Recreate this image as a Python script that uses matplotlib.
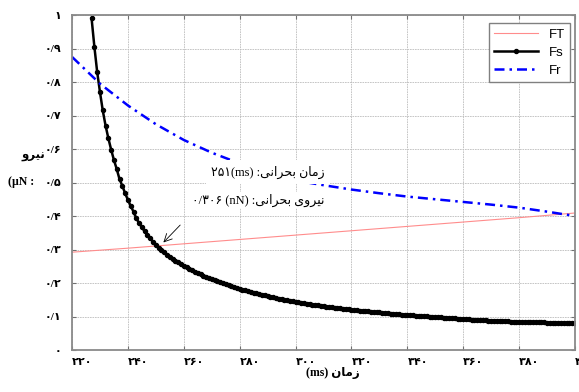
import numpy as np
import matplotlib
matplotlib.use("Agg")
from matplotlib import pyplot as plt

# time axis (ms) and the three force curves
ft_time = [220, 240, 260, 280, 300, 320, 340, 360, 380, 400]
ft_vals = [0.292, 0.304, 0.317, 0.330, 0.343, 0.356, 0.369, 0.382, 0.395, 0.409]

fr_time = [220, 230, 240, 250, 260, 270, 280, 290, 300, 310, 320,
           330, 340, 350, 360, 370, 380, 390, 400]
fr_vals = [0.875, 0.795, 0.730, 0.674, 0.627, 0.589, 0.557, 0.530, 0.506, 0.492, 0.479,
           0.468, 0.458, 0.450, 0.442, 0.434, 0.425, 0.413, 0.400]

fs_start = 227  # one sample per ms
fs_vals = [
    0.990, 0.905, 0.830, 0.770, 0.715, 0.670, 0.632, 0.598, 0.567, 0.540,   # 227-236
    0.510, 0.490, 0.468, 0.448, 0.430, 0.413, 0.393, 0.379, 0.366, 0.354,   # 237-246
    0.343, 0.333, 0.323, 0.314, 0.306, 0.299, 0.292, 0.285, 0.279, 0.273,   # 247-256
    0.267, 0.262, 0.257, 0.252, 0.247, 0.243, 0.238, 0.234, 0.230, 0.226,   # 257-266
    0.222, 0.218, 0.215, 0.211, 0.208, 0.205, 0.202, 0.199, 0.196, 0.193,   # 267-276
    0.190, 0.188, 0.185, 0.183, 0.180, 0.178, 0.176, 0.173, 0.171, 0.169,   # 277-286
    0.167, 0.165, 0.163, 0.161, 0.159, 0.157, 0.155, 0.153, 0.152, 0.150,   # 287-296
    0.148, 0.147, 0.145, 0.144, 0.142, 0.141, 0.139, 0.138, 0.137, 0.135,   # 297-306
    0.134, 0.133, 0.131, 0.130, 0.129, 0.128, 0.127, 0.126, 0.125, 0.124,   # 307-316
    0.123, 0.122, 0.121, 0.120, 0.119, 0.118, 0.117, 0.116, 0.1155, 0.115,  # 317-326
    0.114, 0.113, 0.1125, 0.112, 0.111, 0.110, 0.1095, 0.109, 0.108, 0.1075,  # 327-336
    0.107, 0.106, 0.1055, 0.105, 0.104, 0.1035, 0.103, 0.102, 0.1015, 0.101,  # 337-346
    0.1005, 0.100, 0.099, 0.0985, 0.098, 0.0975, 0.097, 0.0965, 0.096, 0.0955,  # 347-356
    0.095, 0.094, 0.0935, 0.093, 0.092, 0.0915, 0.091, 0.0905, 0.090, 0.0895,  # 357-366
    0.089, 0.0885, 0.088, 0.0878, 0.0874, 0.087, 0.0866, 0.0862, 0.0858, 0.0854,  # 367-376
    0.085, 0.0847, 0.0843, 0.084, 0.0838, 0.0836, 0.0834, 0.0832, 0.083, 0.0828,  # 377-386
    0.0826, 0.0824, 0.0822, 0.082, 0.0818, 0.0816, 0.0814, 0.0812, 0.081, 0.0808,  # 387-396
    0.0806, 0.0804, 0.0802, 0.080,  # 397-400
]
fs_time = list(range(fs_start, fs_start + len(fs_vals)))

x_ticks = [220, 240, 260, 280, 300, 320, 340, 360, 380, 400]
y_ticks = [0, 0.1, 0.2, 0.3, 0.4, 0.5, 0.6, 0.7, 0.8, 0.9, 1.0]

FA_DIGITS = str.maketrans("0123456789.", "۰۱۲۳۴۵۶۷۸۹/")


def fa(s):
    return s.translate(FA_DIGITS)


# persian words already shaped, in visual (left to right) order
W_ZAMAN = "ﻥﺎﻣﺯ"
W_BOHRANI = "ﻰﻧﺍﺮﺤﺑ"
W_NIRU = "ﻭﺮﻴﻧ"
W_NIRUYE = "ﻯﻭﺮﻴﻧ"

SERIF = ["Liberation Serif", "DejaVu Sans"]

fig = plt.figure(figsize=(5.79, 3.92), dpi=100)
ax = fig.add_axes([0.1244, 0.1071, 0.8687, 0.8546])

ax.plot(ft_time, ft_vals, color="#ff8c8c", lw=0.8, label="FT")
ax.plot(fs_time, fs_vals, color="black", lw=1.8, marker="o", ms=2.9, label="Fs")
ax.plot(fr_time, fr_vals, color="blue", lw=1.8, ls=(0, (4, 2, 1, 2)), label="Fr")

ax.set_xlim(220, 400)
ax.set_ylim(0, 1)
ax.set_xticks(x_ticks)
ax.set_yticks(y_ticks)
ax.set_xticklabels([fa(str(v)) for v in x_ticks], ha="left",
                   family=SERIF, fontweight="bold", fontsize=8)
ylabs = ["۰" if v == 0 else ("۱" if v == 1 else fa("0.%d" % round(v * 10))) for v in y_ticks]
ax.set_yticklabels(ylabs, family=SERIF, fontweight="bold", fontsize=8)

ax.grid(True, color="#bdbdbd", lw=0.6, ls=(0, (2, 1)))
ax.tick_params(direction="in", length=3, color="#707070", top=True, right=True)
ax.tick_params(axis="y", pad=8)
ax.tick_params(axis="x", pad=6)
for sp in ax.spines.values():
    sp.set_color("#8a8a8a")
    sp.set_linewidth(1.3)

leg = ax.legend(loc="upper right", bbox_to_anchor=(0.99, 0.976), borderaxespad=0,
                fancybox=False, framealpha=1, edgecolor="#808080",
                prop={"family": "Liberation Sans", "size": 9.5},
                handlelength=3.3, labelspacing=0.45)
leg.get_frame().set_linewidth(1.0)

# critical point annotation
ax.annotate("", xy=(252.0, 0.315), xytext=(259.4, 0.379),
            arrowprops=dict(arrowstyle="->", color="black", lw=0.6,
                            mutation_scale=14))
ax.text(310.5, 0.531, fa("251") + "(ms) :" + W_BOHRANI + " " + W_ZAMAN,
        ha="right", va="center", family=SERIF, fontsize=9,
        bbox=dict(facecolor="white", edgecolor="none", pad=4))
ax.text(310.5, 0.448, fa("0.306") + " (nN) :" + W_BOHRANI + " " + W_NIRUYE,
        ha="right", va="center", family=SERIF, fontsize=9,
        bbox=dict(facecolor="white", edgecolor="none", pad=1))

# axis titles
fig.text(333 / 579, 1 - 373 / 392, "(ms) " + W_ZAMAN, ha="center", va="center",
         family=SERIF, fontweight="bold", fontsize=8.5)
fig.text(33 / 579, 1 - 156 / 392, W_NIRU, ha="center", va="center",
         family=SERIF, fontweight="bold", fontsize=8.5)
fig.text(21 / 579, 1 - 182 / 392, "(µN :", ha="center", va="center",
         family=SERIF, fontweight="bold", fontsize=8.5)

fig.savefig("out.png", dpi=100)
